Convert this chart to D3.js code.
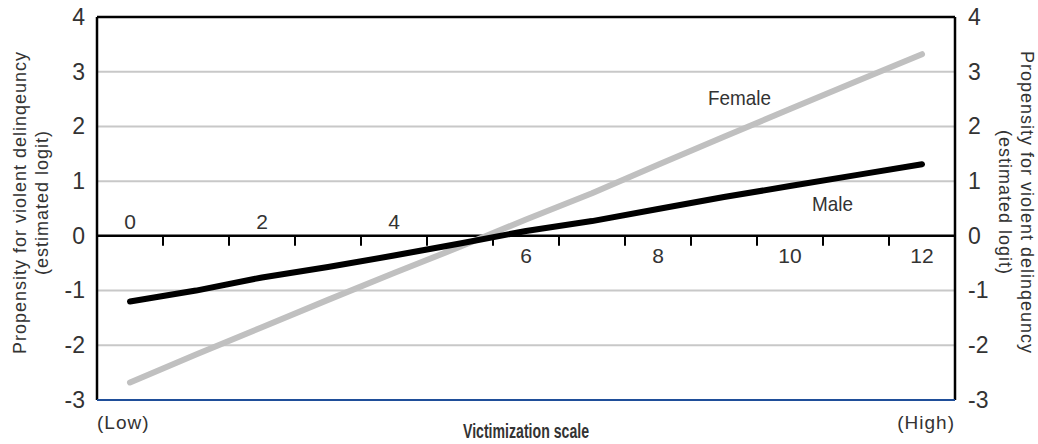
<!DOCTYPE html>
<html>
<head>
<meta charset="utf-8">
<script src="https://cdn.jsdelivr.net/npm/d3@7"></script>
<style>
  body { margin: 0; background: #fff; }
  svg text { font-family: "Liberation Sans", Arial, sans-serif; fill: #333; }
</style>
</head>
<body>
<svg id="chart" width="1038" height="444"></svg>
<script>
"use strict";

// victimization scale categories and estimated logits
var victimization = [0, 1, 2, 3, 4, 5, 6, 7, 8, 9, 10, 11, 12];
var male = [-1.2, -1.0, -0.76, -0.57, -0.36, -0.14, 0.09, 0.27, 0.49, 0.71, 0.91, 1.11, 1.31];
var female = [-2.68, -2.17, -1.67, -1.17, -0.68, -0.2, 0.3, 0.78, 1.3, 1.81, 2.32, 2.82, 3.32];
var yTicks = [-3, -2, -1, 0, 1, 2, 3, 4];
var xLabels = [0, 2, 4, 6, 8, 10, 12];

var svg = d3.select("#chart");
var pLeft = 97, pRight = 955, pTop = 17, pBottom = 400;

var x = d3.scaleBand().domain(victimization).range([pLeft, pRight]).padding(0);
var y = d3.scaleLinear().domain([-3, 4]).range([pBottom, pTop]);
var cx = function (d) { return x(d) + x.bandwidth() / 2; };
var fmt = function (d) { return String(d); };

//Grid lines
svg.append("g").selectAll("line").data(yTicks.filter(function (d) { return d !== 0 && d > -3 && d < 4; }))
  .enter().append("line")
  .attr("x1", pLeft).attr("x2", pRight)
  .attr("y1", function (d) { return y(d); }).attr("y2", function (d) { return y(d); })
  .attr("stroke", "#c8c8c8").attr("stroke-width", 2);

//Y axes (labels only)
var yLeft = svg.append("g").attr("transform", "translate(" + (pLeft - 12) + ",0)")
  .call(d3.axisLeft(y).tickValues(yTicks).tickFormat(fmt).tickSize(0).tickPadding(0));
var yRight = svg.append("g").attr("transform", "translate(" + (pRight + 13) + ",0)")
  .call(d3.axisRight(y).tickValues(yTicks).tickFormat(fmt).tickSize(0).tickPadding(0));
[yLeft, yRight].forEach(function (g) {
  g.select(".domain").remove();
  g.selectAll("text").style("font-size", "23px").attr("fill", "#333")
    .style("font-family", "'Liberation Sans', Arial, sans-serif");
});

//Frame
svg.append("line").attr("x1", pLeft).attr("x2", pRight).attr("y1", pTop).attr("y2", pTop).attr("stroke", "#000").attr("stroke-width", 2.5);
svg.append("line").attr("x1", pLeft).attr("x2", pLeft).attr("y1", pTop).attr("y2", pBottom).attr("stroke", "#000").attr("stroke-width", 2.5);
svg.append("line").attr("x1", pRight).attr("x2", pRight).attr("y1", pTop).attr("y2", pBottom).attr("stroke", "#000").attr("stroke-width", 2.5);
svg.append("line").attr("x1", pLeft).attr("x2", pRight).attr("y1", pBottom).attr("y2", pBottom).attr("stroke", "#1f4e99").attr("stroke-width", 2);

//Zero axis with ticks between categories
svg.append("line").attr("x1", pLeft).attr("x2", pRight).attr("y1", y(0)).attr("y2", y(0)).attr("stroke", "#000").attr("stroke-width", 2.5);
svg.append("g").selectAll("line").data(victimization.slice(1)).enter().append("line")
  .attr("x1", function (d) { return x(d); }).attr("x2", function (d) { return x(d); })
  .attr("y1", y(0)).attr("y2", y(0) + 10)
  .attr("stroke", "#000").attr("stroke-width", 2);

svg.append("g").selectAll("text").data(xLabels).enter().append("text")
  .attr("x", cx)
  .attr("y", function (d) { return d <= 4 ? y(0) - 7 : y(0) + 27; })
  .attr("text-anchor", "middle")
  .style("font-size", "21px")
  .text(fmt);

//Lines
var line = function (vals) {
  return d3.line().x(function (d) { return cx(d); }).y(function (d, i) { return y(vals[i]); })(victimization);
};
svg.append("path").attr("d", line(female)).attr("fill", "none").attr("stroke", "#c0c0c0")
  .attr("stroke-width", 6).attr("stroke-linecap", "round").attr("stroke-linejoin", "round");
svg.append("path").attr("d", line(male)).attr("fill", "none").attr("stroke", "#000")
  .attr("stroke-width", 6).attr("stroke-linecap", "round").attr("stroke-linejoin", "round");

//Series labels
svg.append("text").attr("x", 708).attr("y", 105)
  .attr("textLength", 63).attr("lengthAdjust", "spacingAndGlyphs")
  .style("font-size", "21px").text("Female");
svg.append("text").attr("x", 812).attr("y", 211)
  .attr("textLength", 41).attr("lengthAdjust", "spacingAndGlyphs")
  .style("font-size", "21px").text("Male");

//Axis titles
var titleLines = ["Propensity for violent delinqeuncy", "(estimated logit)"];
var midY = (pTop + pBottom) / 2 - 6;
svg.append("text").attr("transform", "translate(26," + midY + ") rotate(-90)")
  .attr("text-anchor", "middle").style("font-size", "18px").style("letter-spacing", "1px")
  .selectAll("tspan").data(titleLines).enter().append("tspan")
  .attr("x", 0).attr("dy", function (d, i) { return i === 0 ? 0 : 22; })
  .text(function (d) { return d; });
svg.append("text").attr("transform", "translate(1021," + midY + ") rotate(90)")
  .attr("text-anchor", "middle").style("font-size", "18px").style("letter-spacing", "1px")
  .selectAll("tspan").data(titleLines).enter().append("tspan")
  .attr("x", 0).attr("dy", function (d, i) { return i === 0 ? 0 : 22; })
  .text(function (d) { return d; });

svg.append("text").attr("x", pLeft).attr("y", 429).style("font-size", "19px").style("letter-spacing", "1px").text("(Low)");
svg.append("text").attr("x", pRight).attr("y", 429).attr("text-anchor", "end").style("font-size", "19px").style("letter-spacing", "1px").text("(High)");
svg.append("text").attr("x", 463).attr("y", 438)
  .attr("textLength", 126).attr("lengthAdjust", "spacingAndGlyphs")
  .style("font-size", "19.5px").style("font-weight", "bold").text("Victimization scale");
</script>
</body>
</html>
